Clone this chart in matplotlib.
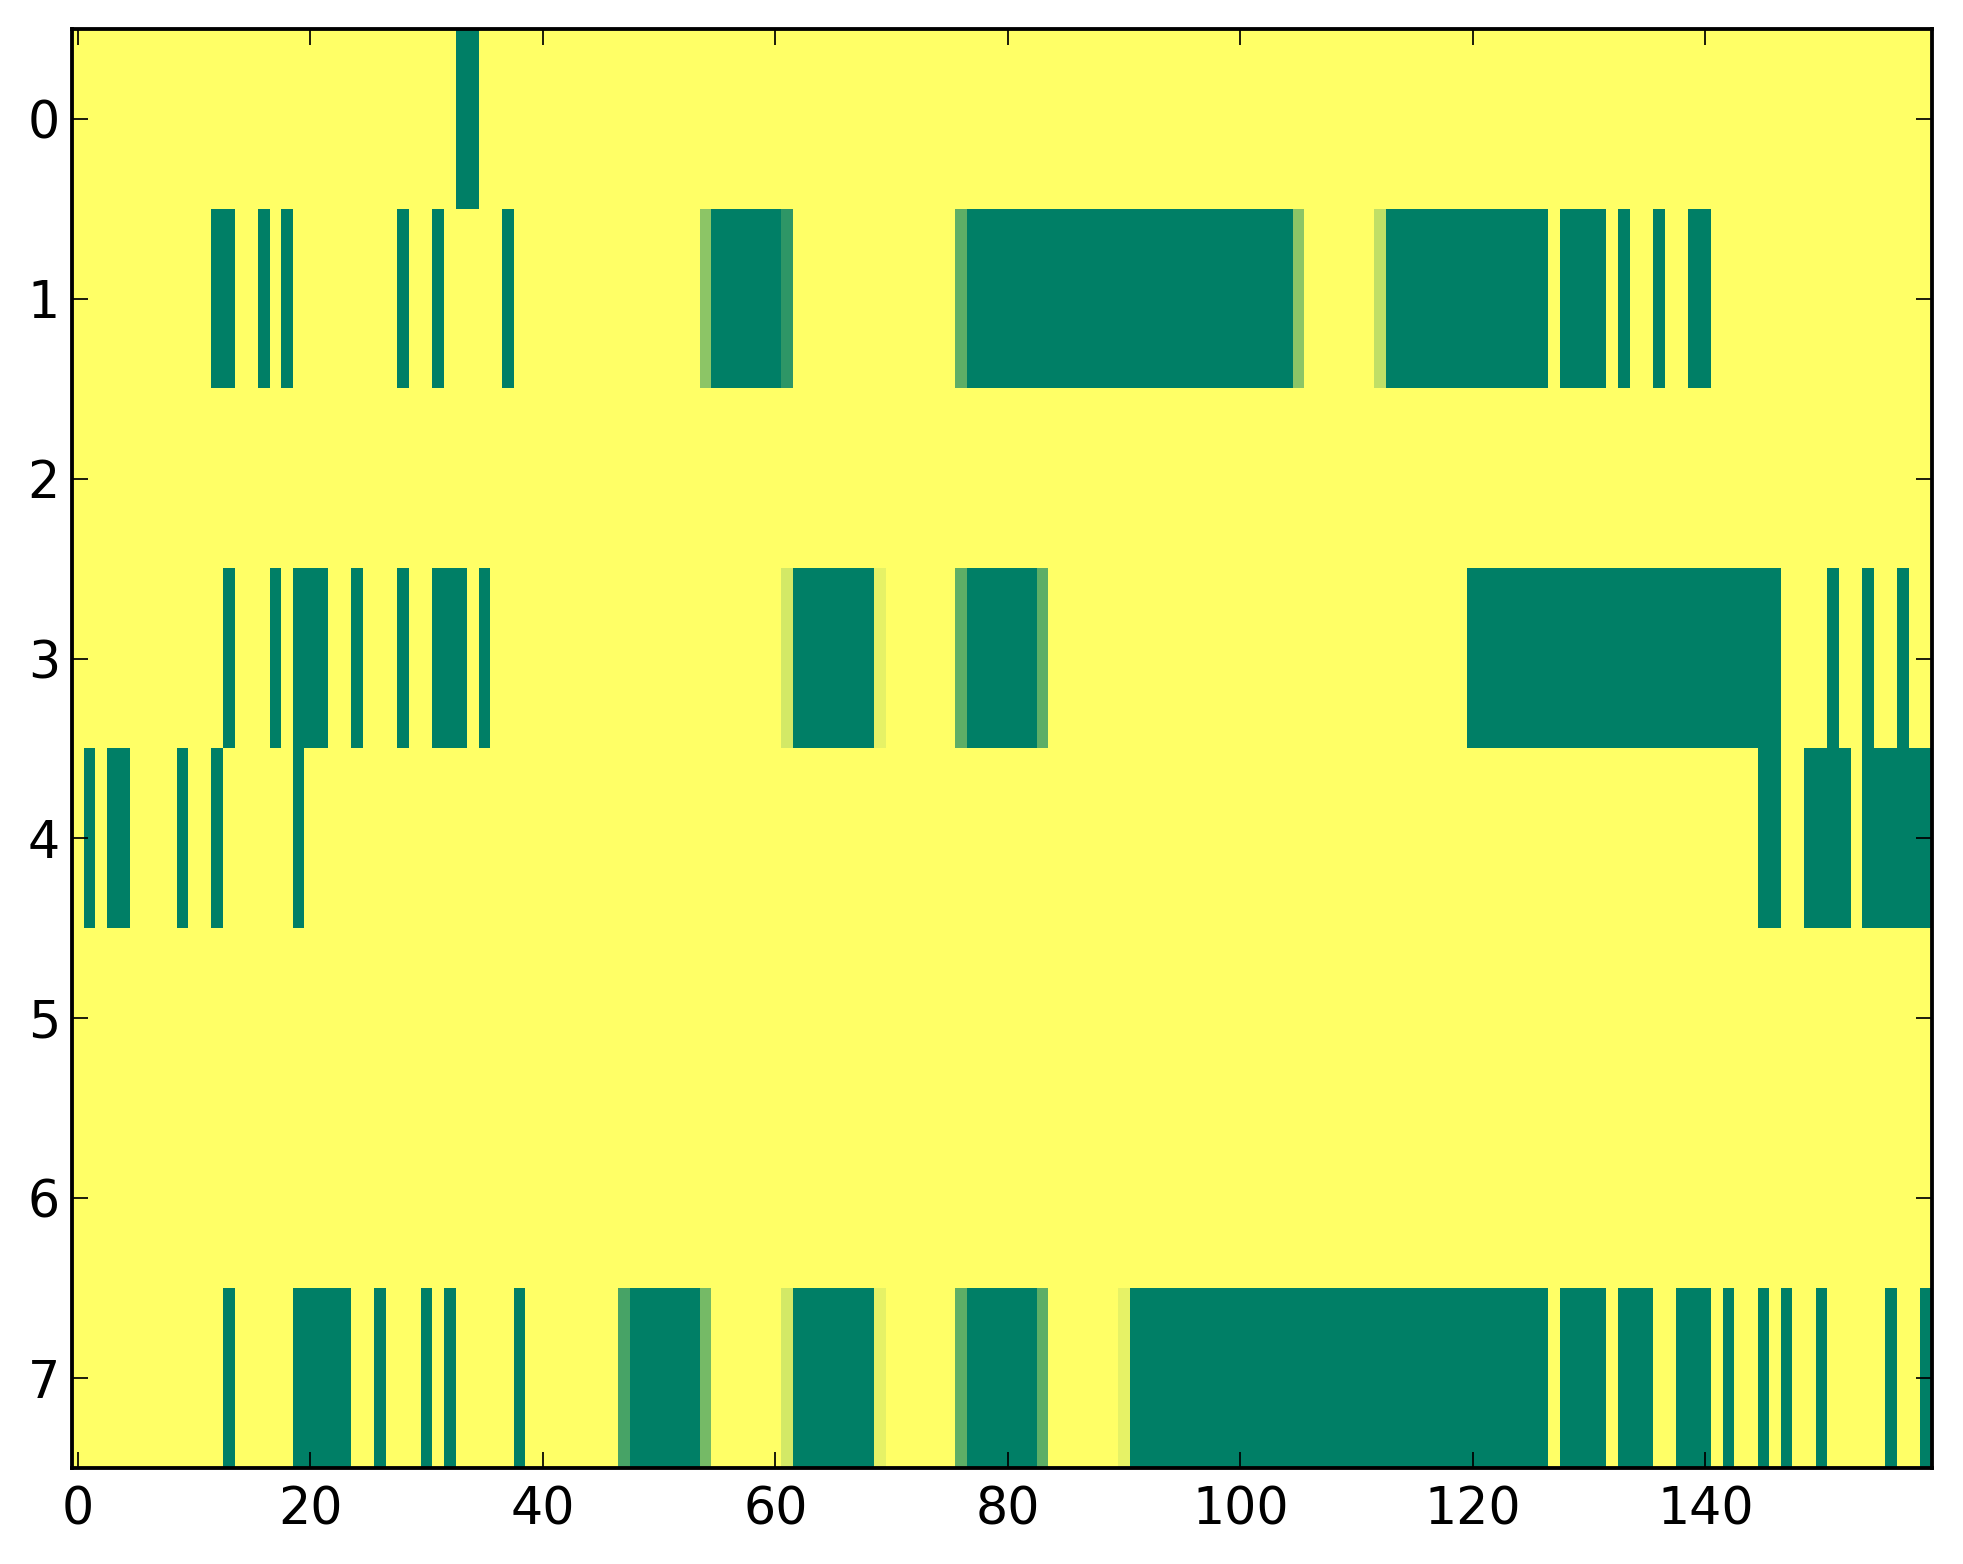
import numpy as np
import matplotlib
matplotlib.use("Agg")
import matplotlib.pyplot as plt

n_rows, n_cols = 8, 160

# Columns with value 0 (dark green), as inclusive (start, end) runs, per row
row0_zero = [(33, 34)]
row1_zero = [(12, 13), (16, 16), (18, 18), (28, 28), (31, 31), (37, 37), (55, 60),
             (77, 104), (113, 126), (128, 131), (133, 133), (136, 136), (139, 140)]
row3_zero = [(13, 13), (17, 17), (19, 21), (24, 24), (28, 28), (31, 33), (35, 35),
             (62, 68), (77, 82), (120, 146), (151, 151), (154, 154), (157, 157)]
row4_zero = [(1, 1), (3, 4), (9, 9), (12, 12), (19, 19), (145, 146), (149, 152), (154, 159)]
row7_zero = [(13, 13), (19, 23), (26, 26), (30, 30), (32, 32), (38, 38), (48, 53),
             (62, 68), (77, 82), (91, 126), (128, 131), (133, 135), (138, 140),
             (142, 142), (145, 145), (147, 147), (150, 150), (156, 156), (159, 159)]

# Fractional values at block edges
row1_partial = {54: 0.55, 61: 0.18, 76: 0.37, 105: 0.55, 112: 0.75}
row3_partial = {61: 0.83, 69: 0.90, 76: 0.37, 83: 0.37}
row7_partial = {47: 0.28, 54: 0.46, 61: 0.83, 69: 0.90, 76: 0.37, 83: 0.37, 90: 0.90}

zero_runs = {0: row0_zero, 1: row1_zero, 3: row3_zero, 4: row4_zero, 7: row7_zero}
partials = {1: row1_partial, 3: row3_partial, 7: row7_partial}

data = np.ones((n_rows, n_cols))
for r, runs in zero_runs.items():
    for a, b in runs:
        data[r, a:b + 1] = 0.0
for r, d in partials.items():
    for c, v in d.items():
        data[r, c] = v

W, H, DPI = 1963, 1564, 250
fig = plt.figure(figsize=(W / DPI, H / DPI), dpi=DPI)
ax = fig.add_axes([72 / W, 1 - 1468 / H, (1932 - 72) / W, (1468 - 29) / H])
ax.imshow(data, cmap="summer", vmin=0, vmax=1, aspect="auto", interpolation="nearest")

ax.set_xticks(np.arange(0, 141, 20))
ax.set_yticks(np.arange(0, 8))
for s in ax.spines.values():
    s.set_linewidth(1.1)
ax.tick_params(axis="both", which="both", direction="in", top=True, right=True,
               length=4.6, width=0.5, labelsize=14.6)
ax.tick_params(axis="x", pad=5)
ax.tick_params(axis="y", pad=3.5)

fig.savefig("out.png", dpi=DPI)
